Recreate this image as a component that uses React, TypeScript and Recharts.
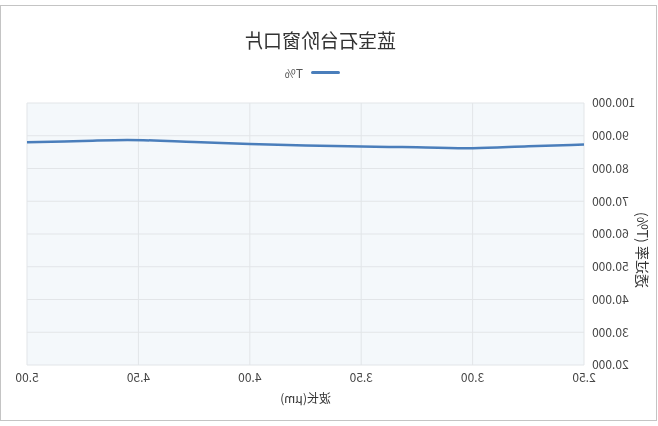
import React from "react";
import { LineChart, Line, XAxis, YAxis, CartesianGrid, Label } from "recharts";

const wavelengths = [2.5, 2.75, 3.0, 3.25, 3.5, 3.75, 4.0, 4.25, 4.55, 4.75, 5.0];
const transmittance = [87.3, 86.8, 86.2, 86.5, 86.7, 87.0, 87.5, 88.1, 88.7, 88.4, 88.0];
const xTicks = [2.5, 3.0, 3.5, 4.0, 4.5, 5.0];
const yTicks = [20, 30, 40, 50, 60, 70, 80, 90, 100];
const title = "蓝宝石台阶窗口片";
const seriesName = "T%";
const xName = "波长(μm)";
const yName = "透过率 (T%)";

const data = wavelengths.map((w, i) => ({ w, t: transmittance[i] }));

const FONT = "'Noto Sans CJK SC', 'Noto Sans', sans-serif";

export default function App() {
  return (
    <div
      style={{
        position: "fixed",
        left: 0,
        top: 0,
        width: 658,
        height: 426,
        transform: "scaleX(-1)",
        background: "#fff",
        fontFamily: FONT,
      }}
    >
      <div
        style={{
          position: "absolute",
          left: 1,
          top: 5,
          width: 655,
          height: 414,
          border: "1px solid #c4c4c4",
        }}
      />
      <div
        style={{
          position: "absolute",
          left: 238,
          width: 200,
          top: 26,
          textAlign: "center",
          fontSize: 19,
          color: "#333",
          lineHeight: "28px",
        }}
      >
        {title}
      </div>
      <div
        style={{
          position: "absolute",
          left: 318,
          top: 64,
          height: 16,
          display: "flex",
          alignItems: "center",
          fontSize: 12,
          color: "#555",
        }}
      >
        <div style={{ width: 29, height: 3, background: "#4a7ebb", borderRadius: 2 }} />
        <span style={{ marginLeft: 8 }}>{seriesName}</span>
      </div>
      <div style={{ position: "absolute", left: 0, top: 0 }}>
        <LineChart
          width={658}
          height={426}
          data={data}
          margin={{ top: 103, right: 27, bottom: 0, left: 0 }}
        >
          <CartesianGrid
            fill="#f4f8fb"
            stroke="#e2e5e8"
            strokeWidth={1}
            horizontalValues={yTicks}
            verticalValues={xTicks}
          />
          <XAxis
            dataKey="w"
            type="number"
            domain={[2.5, 5]}
            ticks={xTicks}
            tickFormatter={(v: number) => v.toFixed(2)}
            axisLine={false}
            tickLine={false}
            height={61}
            tick={{ fontSize: 12, fill: "#444", fontFamily: FONT }}
          >
            <Label
              value={xName}
              position="insideTop"
              offset={29}
              style={{ fontSize: 12, fill: "#333", fontFamily: FONT }}
            />
          </XAxis>
          <YAxis
            type="number"
            domain={[20, 100]}
            ticks={yTicks}
            tickFormatter={(v: number) => v.toFixed(3)}
            axisLine={false}
            tickLine={false}
            width={74}
            tick={{ fontSize: 12, fill: "#444", fontFamily: FONT }}
          >
            <Label
              value={yName}
              angle={-90}
              position="insideLeft"
              offset={16}
              dy={16}
              style={{ fontSize: 14, fill: "#333", fontFamily: FONT, textAnchor: "middle" }}
            />
          </YAxis>
          <Line
            type="monotone"
            dataKey="t"
            stroke="#4a7ebb"
            strokeWidth={2.5}
            dot={false}
            isAnimationActive={false}
          />
        </LineChart>
      </div>
    </div>
  );
}
